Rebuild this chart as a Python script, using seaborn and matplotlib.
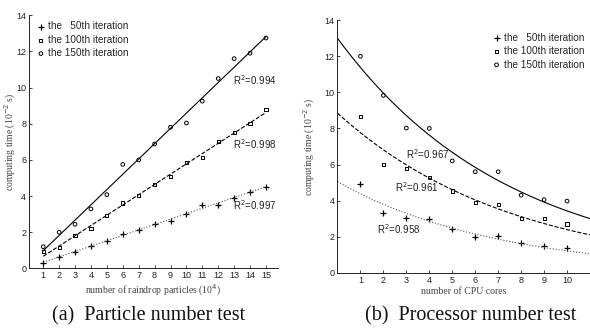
import numpy as np
import pandas as pd
import matplotlib
matplotlib.use("Agg")
import matplotlib.pyplot as plt
import seaborn as sns

# ---- data ----
particles = list(range(1, 16))
part_50 = [0.31, 0.65, 0.92, 1.26, 1.52, 1.89, 2.12, 2.46, 2.62, 3.02, 3.5, 3.5, 3.92, 4.24, 4.51]
part_100 = [0.92, 1.15, 1.81, 2.22, 2.92, 3.62, 4.03, 4.64, 5.1, 5.84, 6.15, 7.0, 7.5, 8.0, 8.8]
part_150 = [1.2, 2.0, 2.44, 3.29, 4.08, 5.75, 6.0, 6.88, 7.81, 8.04, 9.25, 10.5, 11.6, 11.9, 12.74]

cores = list(range(1, 11))
core_50 = [4.91, 3.3, 3.03, 2.97, 2.4, 2.0, 2.01, 1.64, 1.5, 1.37]
core_100 = [8.64, 6.02, 5.8, 5.3, 4.53, 3.88, 3.8, 2.99, 3.0, 2.7]
core_150 = [12.0, 9.83, 8.02, 8.0, 6.2, 5.6, 5.6, 4.3, 4.05, 3.97]

# exponential fits y = a * exp(b * x) shown in panel (b)
exp_a = [5.05, 8.85, 13.0]
exp_b = [-0.1428, -0.1308, -0.1333]

series_labels = ["the   50th iteration", "the 100th iteration", "the 150th iteration"]
r2_part = ["0.997", "0.998", "0.994"]
r2_core = ["0.958", "0.961", "0.967"]

# ---- style ----
sns.set_theme(style="ticks")
plt.rcParams["font.family"] = ["Liberation Sans", "DejaVu Sans"]
plt.rcParams["xtick.direction"] = "in"
plt.rcParams["ytick.direction"] = "in"
plt.rcParams["xtick.major.size"] = 2.5
plt.rcParams["ytick.major.size"] = 2.5
plt.rcParams["xtick.major.width"] = 0.6
plt.rcParams["ytick.major.width"] = 0.6
plt.rcParams["axes.linewidth"] = 0.7

markers = ["+", "s", "o"]
msizes = [20, 5, 7]
lstyles = [":", "--", "-"]
lcolors = ["#555555", "black", "black"]

fig = plt.figure(figsize=(5.9, 3.31), dpi=100)
ax1 = fig.add_axes([0.049, 0.189, 0.422, 0.765])
ax2 = fig.add_axes([0.572, 0.176, 0.428, 0.763])


def draw_points(ax, x, y, i):
    if markers[i] == "+":
        sns.scatterplot(x=x, y=y, marker="+", s=msizes[i], color="black",
                        linewidth=0.9, ax=ax, label=series_labels[i])
    else:
        sns.scatterplot(x=x, y=y, marker=markers[i], s=msizes[i],
                        facecolor="none", edgecolor="black", linewidth=0.7,
                        ax=ax, label=series_labels[i])


# ---- (a) particle number ----
for i, y in enumerate([part_50, part_100, part_150]):
    sns.regplot(x=particles, y=y, ax=ax1, scatter=False, ci=None, truncate=True,
                line_kws=dict(color=lcolors[i], ls=lstyles[i], lw=0.8))
    draw_points(ax1, particles, y, i)

r2_pos_a = [(12.9, 3.5), (12.9, 6.87), (12.9, 10.4)]
for (tx, ty), r in zip(r2_pos_a, r2_part):
    ax1.text(tx, ty, f"R$^2$={r}", fontsize=7, va="center", ha="left", color="#222222")

ax1.set_xlim(0.1, 15.75)
ax1.set_ylim(0, 14)
ax1.set_xticks(particles)
ax1.set_yticks(range(0, 15, 2))
ax1.set_xlabel("number of raindrop particles (10$^4$)", family="Liberation Serif",
               fontsize=7, color="#444444", labelpad=2)
ax1.set_ylabel("computing time (10$^{-2}$ s)", family="Liberation Serif",
               fontsize=7, color="#444444")
ax1.yaxis.set_label_coords(-0.042, 0.5)

# ---- (b) processor number ----
xs = np.linspace(0, 11, 200)
for i, y in enumerate([core_50, core_100, core_150]):
    sns.lineplot(x=xs, y=exp_a[i] * np.exp(exp_b[i] * xs), ax=ax2,
                 color=lcolors[i], ls=lstyles[i], lw=0.8)
    draw_points(ax2, cores, y, i)

r2_pos_b = [(1.74, 2.44), (2.5, 4.77), (3.0, 6.58)]
for (tx, ty), r in zip(r2_pos_b, r2_core):
    ax2.text(tx, ty, f"R$^2$={r}", fontsize=7, va="center", ha="left", color="#222222")

ax2.set_xlim(0, 11)
ax2.set_ylim(0, 14)
ax2.set_xticks(cores)
ax2.set_yticks(range(0, 15, 2))
ax2.set_xlabel("number of CPU cores", family="Liberation Serif",
               fontsize=7, color="#444444", labelpad=2)
ax2.set_ylabel("computing time (10$^{-2}$ s)", family="Liberation Serif",
               fontsize=7, color="#444444")
ax2.yaxis.set_label_coords(-0.08, 0.5)

for ax in (ax1, ax2):
    sns.despine(ax=ax)
    ax.tick_params(labelsize=6.5, colors="#222222", pad=2)
    ax.spines["left"].set_color("#222222")
    ax.spines["bottom"].set_color("#222222")

ax1.legend(frameon=False, loc="upper left", fontsize=7.2, handletextpad=0.1,
           labelspacing=0.35, borderaxespad=0.2, handlelength=1.2,
           bbox_to_anchor=(0.0, 1.0))
ax2.legend(frameon=False, loc="upper right", fontsize=7.2, handletextpad=0.1,
           labelspacing=0.35, borderaxespad=0.2, handlelength=1.2,
           bbox_to_anchor=(1.0, 0.975))

# ---- captions ----
fig.text(0.251, 0.045, "(a)  Particle number test", family="Liberation Serif",
         fontsize=14.5, ha="center", va="center", color="#111111")
fig.text(0.797, 0.045, "(b)  Processor number test", family="Liberation Serif",
         fontsize=14.5, ha="center", va="center", color="#111111")

fig.savefig("out.png", dpi=100)
